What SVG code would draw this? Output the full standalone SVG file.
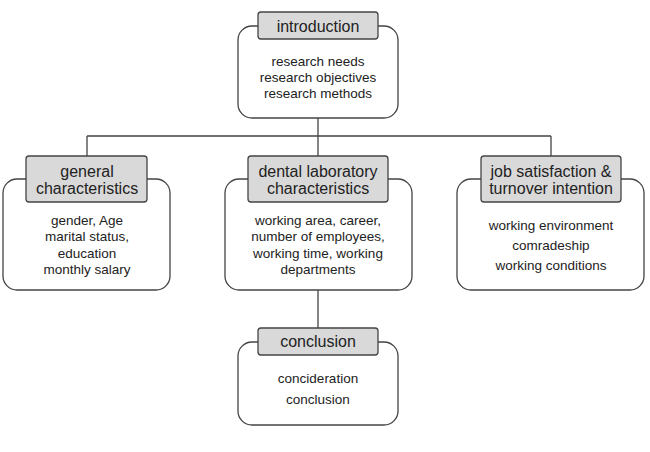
<svg xmlns="http://www.w3.org/2000/svg" width="650" height="452" viewBox="0 0 650 452">
<style>
.body{fill:#fff;stroke:#444;stroke-width:1.3}
.hdr{fill:#d9d9d9;stroke:#444;stroke-width:1.3}
.ht{font-family:"Liberation Sans",Arial,sans-serif;font-size:16px;fill:#222;text-anchor:middle}
.bt{font-family:"Liberation Sans",Arial,sans-serif;font-size:13.5px;fill:#222;text-anchor:middle}
.conn{fill:none;stroke:#444;stroke-width:1.3}
</style>
<rect width="650" height="452" fill="#fff"/>
<g id="connectors">
<path class="conn" d="M318 118V136M87 136H551M87 136V156M318 136V156M551 136V156M318 290V328"/>
</g>
<g id="introduction">
<rect class="body" x="238" y="26" width="160" height="92" rx="14"/>
<rect class="hdr" x="258" y="12" width="120" height="27" rx="3"/>
<text class="ht" x="318" y="32">introduction</text>
<text class="bt" x="318" y="66">research needs</text>
<text class="bt" x="318" y="82">research objectives</text>
<text class="bt" x="318" y="98">research methods</text>
</g>
<g id="general">
<rect class="body" x="3" y="179" width="167" height="111" rx="14"/>
<rect class="hdr" x="26" y="156" width="121" height="46" rx="3"/>
<text class="ht" x="87" y="177">general</text>
<text class="ht" x="87" y="194">characteristics</text>
<text class="bt" x="87" y="225">gender, Age</text>
<text class="bt" x="87" y="241">marital status,</text>
<text class="bt" x="87" y="258">education</text>
<text class="bt" x="87" y="274">monthly salary</text>
</g>
<g id="dental">
<rect class="body" x="225" y="179" width="187" height="111" rx="14"/>
<rect class="hdr" x="248" y="156" width="140" height="46" rx="3"/>
<text class="ht" x="318" y="177">dental laboratory</text>
<text class="ht" x="318" y="194">characteristics</text>
<text class="bt" x="318" y="225">working area, career,</text>
<text class="bt" x="318" y="241">number of employees,</text>
<text class="bt" x="318" y="258">working time, working</text>
<text class="bt" x="318" y="274">departments</text>
</g>
<g id="job">
<rect class="body" x="457" y="179" width="187" height="111" rx="14"/>
<rect class="hdr" x="481" y="156" width="140" height="46" rx="3"/>
<text class="ht" x="551" y="177">job satisfaction &amp;</text>
<text class="ht" x="551" y="194">turnover intention</text>
<text class="bt" x="551" y="230">working environment</text>
<text class="bt" x="551" y="250">comradeship</text>
<text class="bt" x="551" y="270">working conditions</text>
</g>
<g id="conclusion">
<rect class="body" x="238" y="342" width="160" height="83" rx="14"/>
<rect class="hdr" x="258" y="328" width="120" height="27" rx="3"/>
<text class="ht" x="318" y="347">conclusion</text>
<text class="bt" x="318" y="383">concideration</text>
<text class="bt" x="318" y="404">conclusion</text>
</g>
</svg>
